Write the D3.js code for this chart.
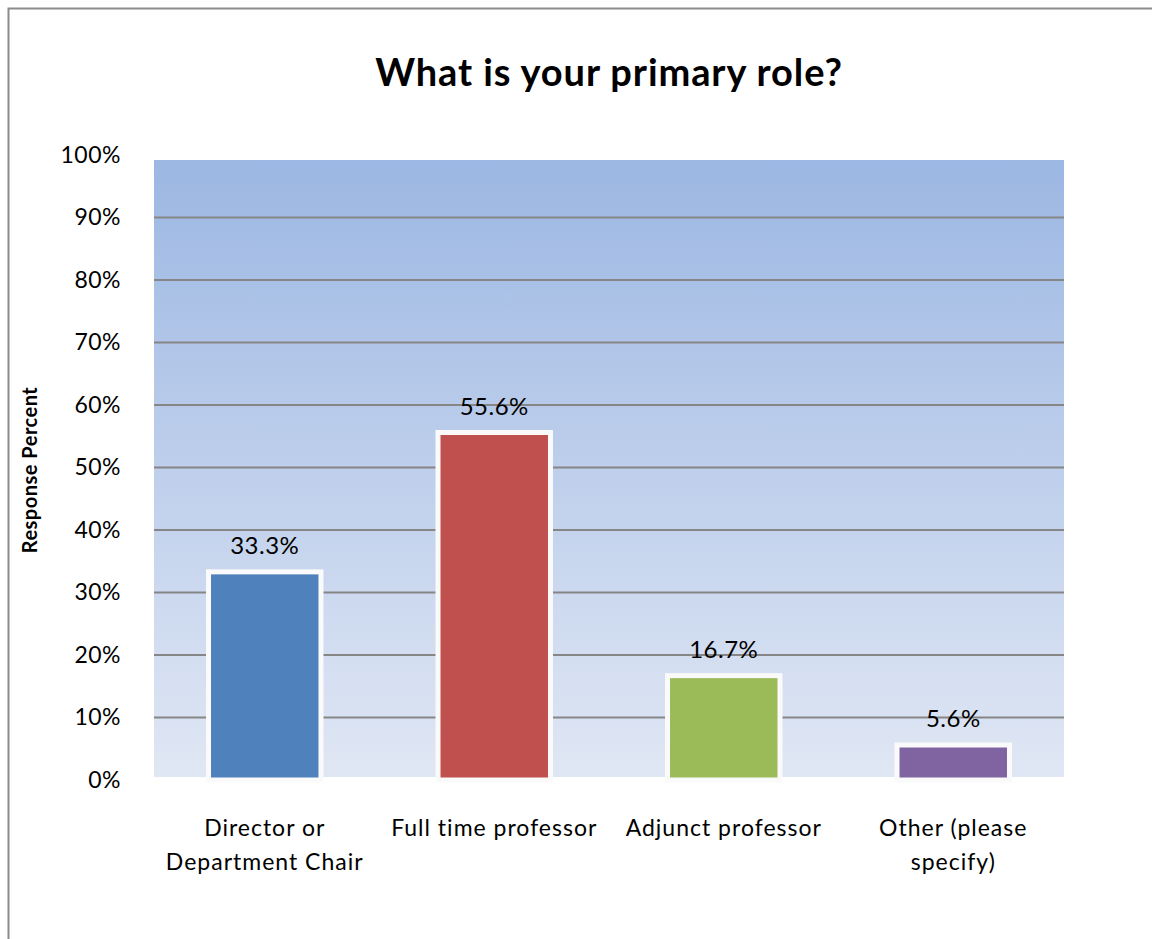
<!DOCTYPE html>
<html>
<head>
  <meta charset="utf-8">
  <script src="https://d3js.org/d3.v7.min.js"></script>
  <style>
    body { margin: 0; background: #fff; }
    text { font-family: Lato, "Open Sans", sans-serif; fill: #000; font-variant-ligatures: none; }
  </style>
</head>
<body>
<svg id="chart"></svg>
<script>
  var w = 1152;
  var h = 939;

  // data
  var categories = [["Director or", "Department Chair"], ["Full time professor"], ["Adjunct professor"], ["Other (please", "specify)"]];
  var values = [33.3, 55.6, 16.7, 5.6];
  var colors = ["#4F81BD", "#C0504D", "#9BBB59", "#8064A2"];
  var ticks = [0, 10, 20, 30, 40, 50, 60, 70, 80, 90, 100];

  var plotLeft = 154, plotRight = 1064, plotTop = 155, plotBottom = 780;

  var svg = d3.select("#chart").attr("width", w).attr("height", h);

  // outer chart frame
  svg.append("rect").attr("x", 8.5).attr("y", 8.5)
    .attr("width", w).attr("height", h)
    .attr("fill", "#fff").attr("stroke", "#8c8c8c").attr("stroke-width", 2);

  var defs = svg.append("defs");
  var grad = defs.append("linearGradient").attr("id", "bg")
    .attr("x1", 0).attr("y1", 0).attr("x2", 0).attr("y2", 1);
  grad.append("stop").attr("offset", "0%").attr("stop-color", "#9CB7E3");
  grad.append("stop").attr("offset", "100%").attr("stop-color", "#E0E7F4");

  // bars sit a little wider than the plot box, like the original
  var x = d3.scaleBand().domain(d3.range(values.length))
    .range([150, 1068]).paddingInner(0.51).paddingOuter(0.255);
  var y = d3.scaleLinear().domain([0, 100]).range([plotBottom, plotTop]);

  // plot area
  svg.append("rect").attr("x", plotLeft).attr("y", 160)
    .attr("width", plotRight - plotLeft).attr("height", 777 - 160)
    .attr("fill", "url(#bg)");

  // gridlines
  svg.append("g").selectAll("line").data(ticks.filter(function(d) { return d > 0 && d < 100; }))
    .join("line")
    .attr("x1", plotLeft).attr("x2", plotRight)
    .attr("y1", function(d) { return y(d); }).attr("y2", function(d) { return y(d); })
    .attr("stroke", "#868686").attr("stroke-width", 2);

  // y axis labels
  var yAxis = d3.axisLeft(y).tickValues(ticks).tickSize(0).tickPadding(33)
    .tickFormat(function(d) { return d + "%"; });
  var gy = svg.append("g").attr("transform", "translate(" + plotLeft + ",0)").call(yAxis);
  gy.select(".domain").remove();
  gy.selectAll("text").attr("font-size", "23px").attr("font-family", "Lato, sans-serif")
    .attr("letter-spacing", "0.5px").attr("fill", "#000");

  // bars
  svg.append("g").selectAll("rect").data(values).join("rect")
    .attr("x", function(d, i) { return x(i); })
    .attr("y", function(d) { return y(d); })
    .attr("width", x.bandwidth())
    .attr("height", function(d) { return y(0) - y(d); })
    .attr("fill", function(d, i) { return colors[i]; })
    .attr("stroke", "#fafafa").attr("stroke-width", 5);

  // data labels
  svg.append("g").selectAll("text").data(values).join("text")
    .attr("x", function(d, i) { return x(i) + x.bandwidth() / 2; })
    .attr("y", function(d) { return y(d) - 18; })
    .attr("text-anchor", "middle").attr("font-size", "24px").attr("letter-spacing", "0.5px")
    .text(function(d) { return d.toFixed(1) + "%"; });

  // category labels
  var cat = svg.append("g").selectAll("text").data(categories).join("text")
    .attr("text-anchor", "middle").attr("font-size", "23px").attr("letter-spacing", "1px")
    .attr("x", function(d, i) { return x(i) + x.bandwidth() / 2; })
    .attr("y", 836);
  cat.selectAll("tspan").data(function(d) { return d; }).join("tspan")
    .attr("x", function() { return this.parentNode.getAttribute("x"); })
    .attr("dy", function(d, i) { return i === 0 ? 0 : 34; })
    .text(function(d) { return d; });

  // title
  svg.append("text").attr("x", 609).attr("y", 86)
    .attr("text-anchor", "middle").attr("font-size", "38px").attr("font-weight", "bold")
    .attr("letter-spacing", "0.9px")
    .text("What is your primary role?");

  // y axis title
  svg.append("text")
    .attr("transform", "translate(37,470) rotate(-90)")
    .attr("text-anchor", "middle").attr("font-size", "20px").attr("font-weight", "bold")
    .attr("letter-spacing", "0.5px")
    .text("Response Percent");
</script>
</body>
</html>
